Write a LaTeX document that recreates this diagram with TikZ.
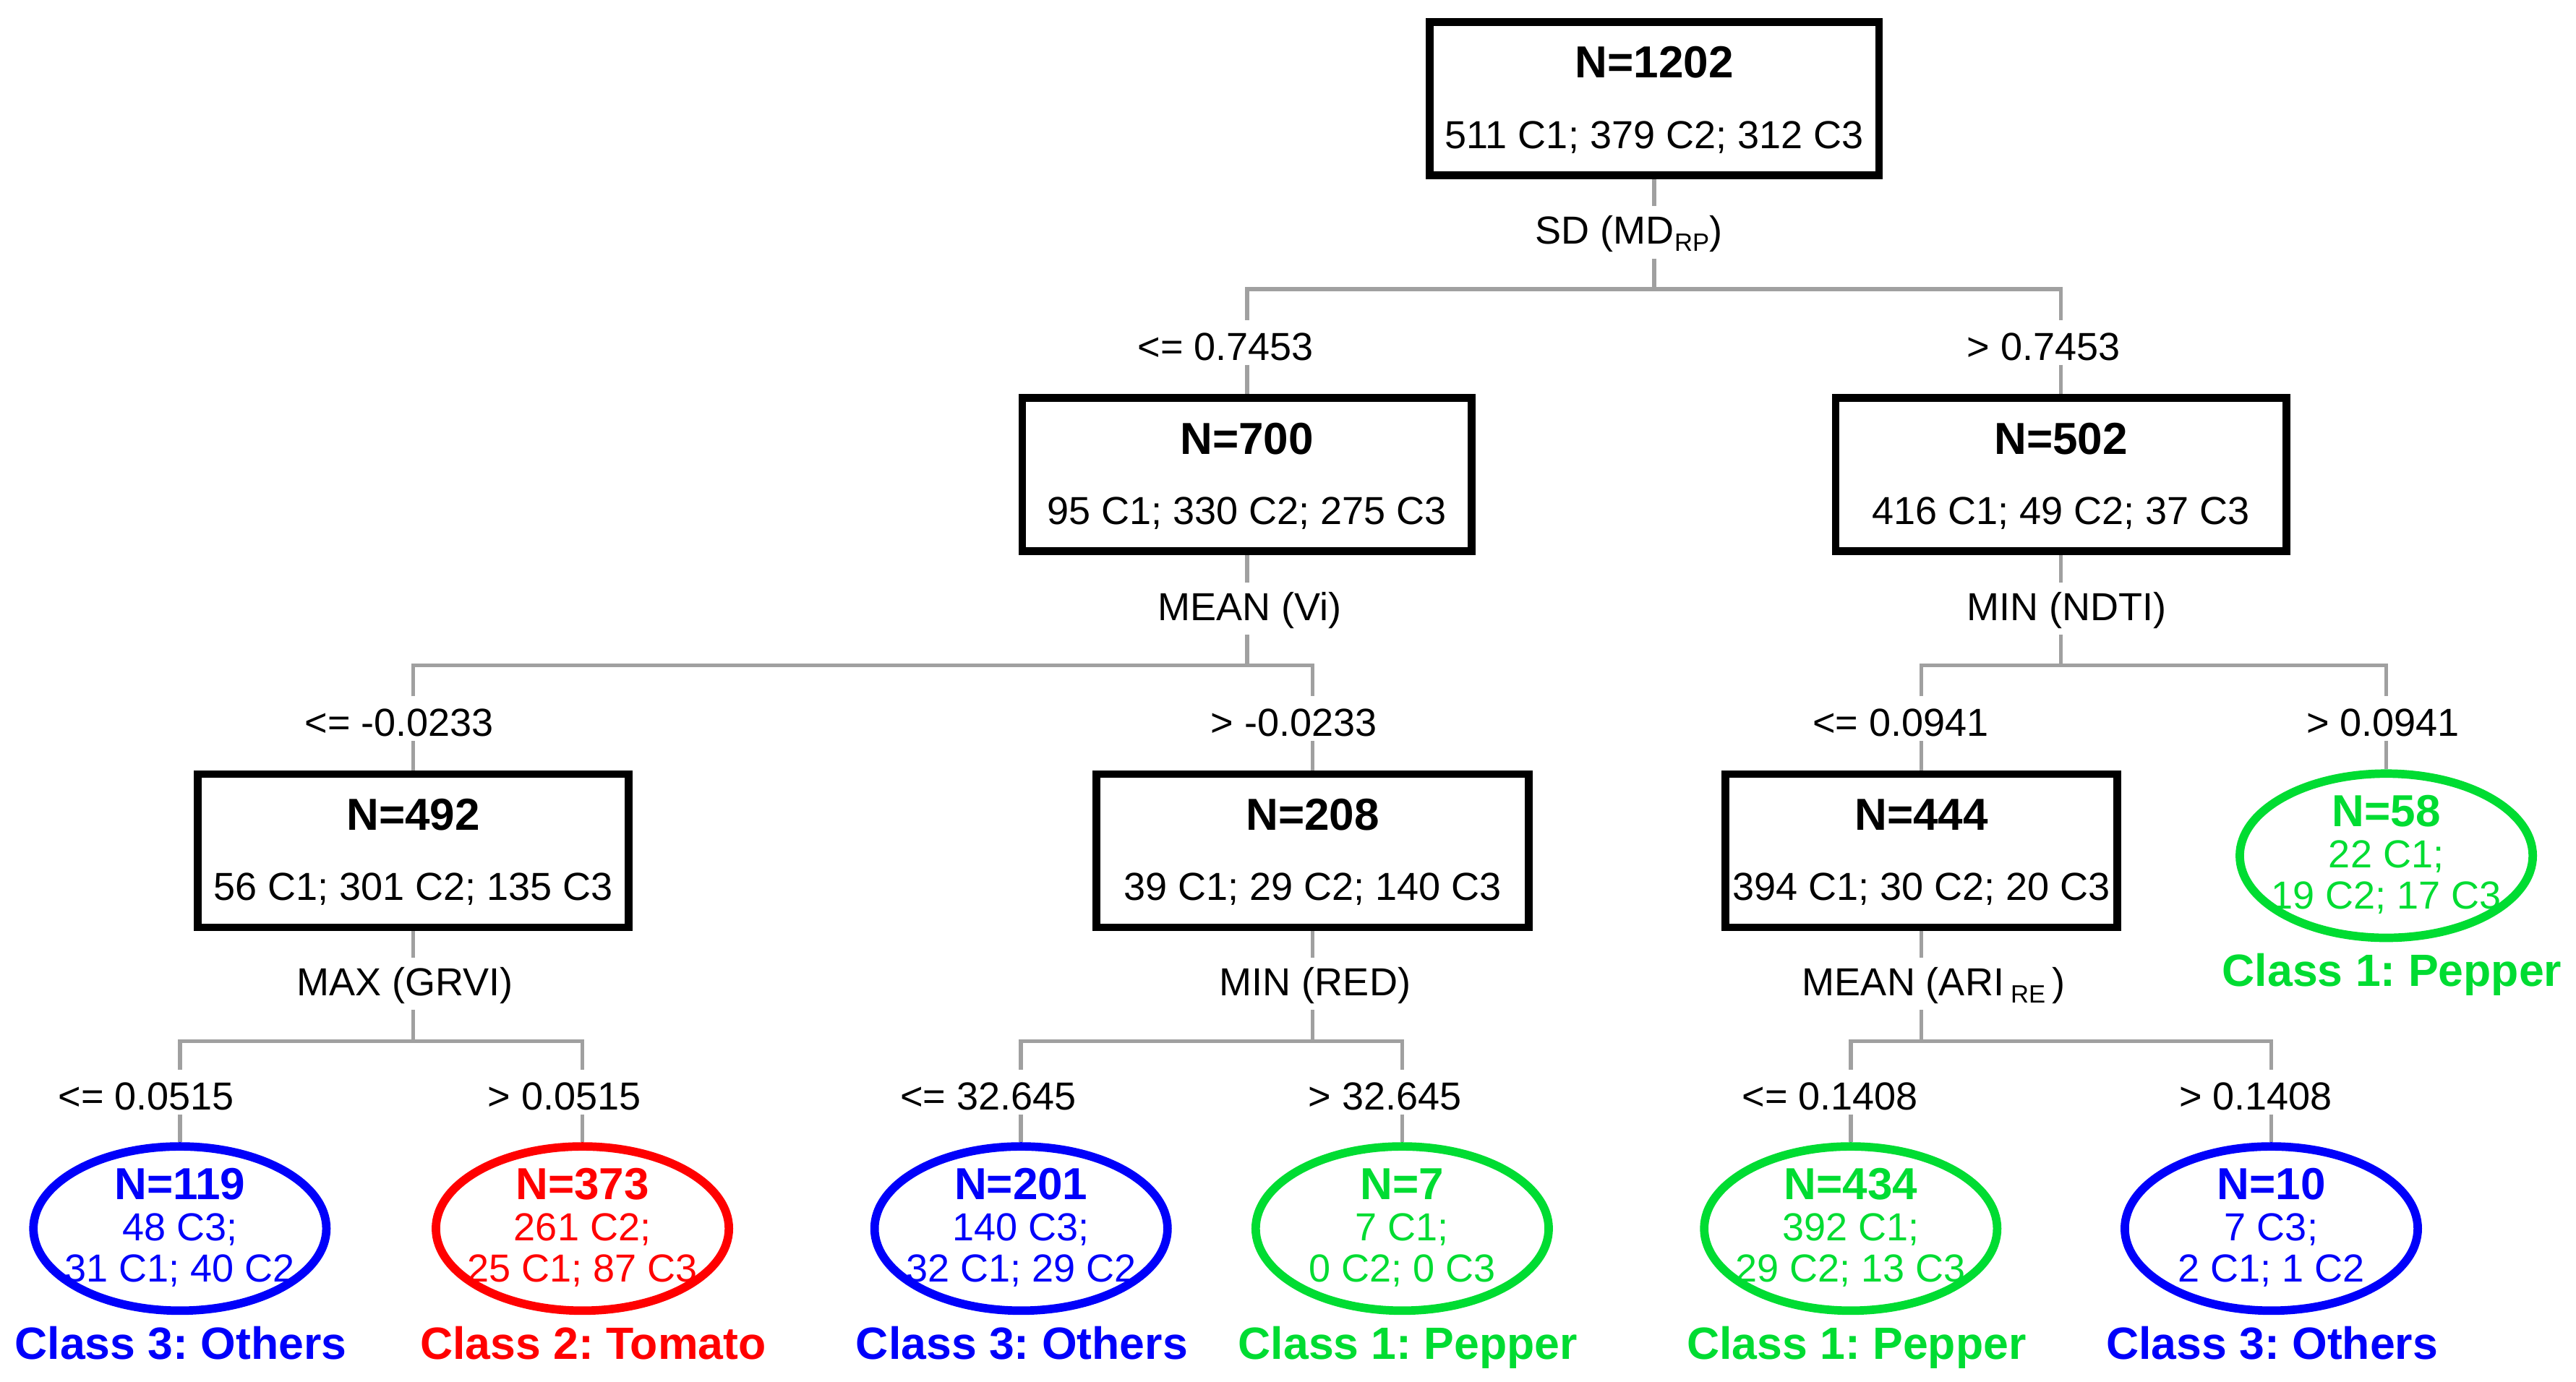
\documentclass[tikz,border=0pt]{standalone}
\usepackage{fontspec}
\setmainfont{Liberation Sans}
\usetikzlibrary{shapes.geometric}
\definecolor{cblue}{RGB}{0,0,250}
\definecolor{cred}{RGB}{255,0,0}
\definecolor{cgreen}{RGB}{0,220,50}
\definecolor{lgray}{RGB}{160,160,160}
\frenchspacing
\newcommand\fnorm{\fontsize{20.3}{24}\selectfont}
\newcommand\ftitle{\fontsize{23.3}{27}\selectfont\bfseries}
\newcommand\fclass{\fontsize{23.5}{28}\selectfont\bfseries}
\newcommand\subtxt[1]{\raisebox{-0.35ex}{\fontsize{13}{13}\selectfont #1}}
\newcommand\ibox[6]{%
  \node[ibox, minimum width=#4] (#1) at (#2,#3) {};
  \node[ttl] (#1t) at (#2,{#3-22}) {#5};
  \node[cnt] (#1c) at (#2,{#3+22}) {#6};}
\newcommand\leafnode[9]{%
  \node[leaf, draw=#4] (#1) at (#2,#3) {};
  \node[ttl, text=#4] (#1t) at (#2,{#3-27}) {#5};
  \node[cnt, text=#4] (#1a) at (#2,{#3-1}) {#6};
  \node[cnt, text=#4] (#1b) at (#2,{#3+24}) {#7};
  \node[cls, text=#4] (#1l) at ({#2+#9},{#3+69.5}) {#8};}
\newcommand\branch[7]{%
  \draw[conn] (#1.south) -- (#1.south |- #2.north);
  \draw[conn] (#1.south |- #2.south) -- (#1.south |- #3);
  \draw[conn] (#4.north |- #5.north) -- (#4.north |- #3) -- (#6.north |- #3) -- (#6.north |- #7.north);
  \draw[conn] (#4.north |- #5.south) -- (#4.north);
  \draw[conn] (#6.north |- #7.south) -- (#6.north);}
\begin{document}
\begin{tikzpicture}[x=0.03cm,y=-0.03cm,
  ibox/.style={draw=black, line width=4pt, minimum height=2.8cm, inner sep=0pt},
  leaf/.style={ellipse, line width=4.4pt, minimum width=5.35cm, minimum height=3.0cm, inner sep=0pt},
  ttl/.style={font=\ftitle, inner sep=0pt},
  cnt/.style={font=\fnorm, inner sep=0pt, text depth=0pt},
  cls/.style={font=\fclass, inner sep=0pt, text depth=0pt},
  split/.style={font=\fnorm, inner sep=3pt, text height=16.5pt, text depth=4.3pt},
  cond/.style={font=\fnorm, inner sep=2.1pt, text height=18.6pt, text depth=0pt},
  conn/.style={draw=lgray, line width=2.1pt}]
\fill[white] (0,0) rectangle (1568,841);
\useasboundingbox (0,0) rectangle (1568,841);

% inner nodes
\ibox{n0}{1007}{60}{8.2cm}{N=1202}{511 C1; 379 C2; 312 C3}
\ibox{n1}{759}{289}{8.2cm}{N=700}{95 C1; 330 C2; 275 C3}
\ibox{n2}{1254.5}{289}{8.23cm}{N=502}{416 C1; 49 C2; 37 C3}
\ibox{n3}{251.5}{518}{7.87cm}{N=492}{56 C1; 301 C2; 135 C3}
\ibox{n4}{799}{518}{7.9cm}{N=208}{39 C1; 29 C2; 140 C3}
\ibox{n5}{1169.5}{518}{7.15cm}{N=444}{394 C1; 30 C2; 20 C3}

% leaves
\leafnode{l6}{1452.5}{521}{cgreen}{N=58}{22 C1;}{19 C2; 17 C3}{Class 1: Pepper}{3.5}
\leafnode{l1}{109.5}{748}{cblue}{N=119}{48 C3;}{31 C1; 40 C2}{Class 3: Others}{0.5}
\leafnode{l2}{354.5}{748}{cred}{N=373}{261 C2;}{25 C1; 87 C3}{Class 2: Tomato}{6.5}
\leafnode{l3}{621.5}{748}{cblue}{N=201}{140 C3;}{32 C1; 29 C2}{Class 3: Others}{0.5}
\leafnode{l4}{853.5}{748}{cgreen}{N=7}{7 C1;}{0 C2; 0 C3}{Class 1: Pepper}{3.5}
\leafnode{l5}{1126.5}{748}{cgreen}{N=434}{392 C1;}{29 C2; 13 C3}{Class 1: Pepper}{3.5}
\leafnode{l7}{1382.5}{748}{cblue}{N=10}{7 C3;}{2 C1; 1 C2}{Class 3: Others}{0.5}

% split variables
\node[split] (s0) at (991.5,141.5) {SD (MD\subtxt{RP})};
\node[split] (s1) at (760.5,370.5) {MEAN (Vi)};
\node[split] (s2) at (1258,370.5) {MIN (NDTI)};
\node[split] (s3) at (246.5,599) {MAX (GRVI)};
\node[split] (s4) at (800.5,599) {MIN (RED)};
\node[split] (s5) at (1177,599) {MEAN (ARI\,\subtxt{RE}\,)};

% conditions
\node[cond] (c1) at (746,208.5) {<= 0.7453};
\node[cond] (c2) at (1244,208.5) {> 0.7453};
\node[cond] (c3) at (243,437.5) {<= -0.0233};
\node[cond] (c4) at (787.5,437.5) {> -0.0233};
\node[cond] (c5) at (1157,437.5) {<= 0.0941};
\node[cond] (c6) at (1450.5,437.5) {> 0.0941};
\node[cond] (c7) at (89,665) {<= 0.0515};
\node[cond] (c8) at (343.5,665) {> 0.0515};
\node[cond] (c9) at (601.5,665) {<= 32.645};
\node[cond] (c10) at (843,665) {> 32.645};
\node[cond] (c11) at (1114,665) {<= 0.1408};
\node[cond] (c12) at (1373,665) {> 0.1408};

% junction levels
\coordinate (h0) at (1007,176);
\coordinate (h1) at (759,405);
\coordinate (h2) at (1254.5,405);
\coordinate (h3) at (251.5,634);
\coordinate (h4) at (799,634);
\coordinate (h5) at (1169.5,634);

\branch{n0}{s0}{h0}{n1}{c1}{n2}{c2}
\branch{n1}{s1}{h1}{n3}{c3}{n4}{c4}
\branch{n2}{s2}{h2}{n5}{c5}{l6}{c6}
\branch{n3}{s3}{h3}{l1}{c7}{l2}{c8}
\branch{n4}{s4}{h4}{l3}{c9}{l4}{c10}
\branch{n5}{s5}{h5}{l5}{c11}{l7}{c12}
\end{tikzpicture}
\end{document}
